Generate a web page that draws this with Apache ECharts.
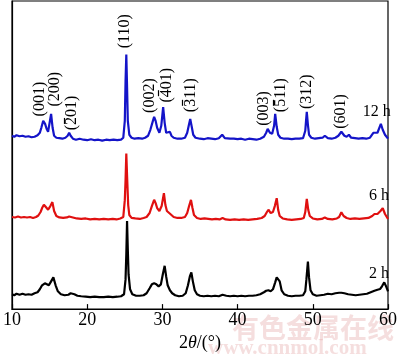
<!DOCTYPE html>
<html><head><meta charset="utf-8">
<script src="https://cdn.jsdelivr.net/npm/echarts@6/dist/echarts.min.js"></script>
<style>html,body{margin:0;padding:0;background:#fff}#c{width:400px;height:357px}</style>
</head><body><div id="c"></div>
<script>
// 2θ (deg) and offset intensity (a.u.) for each trace
const trace12h = [[10.0,175],[10.3,174],[10.6,175.5],[11.0,174.5],[11.4,175],[11.8,174],[12.2,174.5],[12.6,173.5],[13.0,174],[13.4,175.5],[13.7,178],[13.9,183],[14.15,190],[14.4,187],[14.6,182],[14.8,179],[15.0,188],[15.2,197],[15.4,183],[15.6,175],[15.9,173],[16.3,172.5],[16.7,172],[17.1,173],[17.4,175],[17.6,178],[17.8,175],[18.1,172],[18.5,171],[19.0,172],[19.5,171],[20.0,170.5],[20.5,171.5],[21.0,170.5],[21.5,171],[22.0,170],[22.5,171],[23.0,170.5],[23.5,171],[24.0,170.5],[24.5,171],[24.8,173],[25.0,190],[25.1,230],[25.2,257],[25.3,225],[25.4,190],[25.6,176],[25.9,173],[26.3,172],[26.8,172.5],[27.3,172],[27.7,173],[28.1,175],[28.4,181],[28.7,189],[28.9,194],[29.1,190],[29.3,183],[29.6,178],[29.85,185],[30.1,204],[30.3,188],[30.5,178],[30.7,177],[31.0,179],[31.2,175],[31.5,173],[32.0,172],[32.5,172],[33.0,173],[33.3,178],[33.5,185],[33.7,192],[33.9,184],[34.1,176],[34.4,173],[35.0,172],[35.5,171.5],[36.0,172.5],[36.5,172],[37.0,171.5],[37.5,172.5],[37.95,176],[38.3,172.5],[39.0,172],[39.5,172],[40.0,171.5],[40.5,172],[41.0,171],[41.5,172],[42.0,171.5],[42.5,171],[43.0,172],[43.5,174],[43.8,178],[44.0,182],[44.3,178],[44.6,177],[44.85,185],[45.0,197],[45.2,184],[45.4,176],[45.7,173],[46.2,172],[46.7,172],[47.2,171.5],[47.7,172],[48.2,172],[48.7,172.5],[49.0,180],[49.1,190],[49.2,199],[49.35,186],[49.5,176],[49.8,173],[50.3,172],[50.8,172.5],[51.3,173],[51.6,175],[52.0,172.5],[52.5,172],[53.0,173],[53.4,175],[53.8,179],[54.2,175],[54.5,174],[54.8,176],[55.1,173],[55.6,172.5],[56.1,172],[56.6,172.5],[57.1,172],[57.6,173],[58.05,178],[58.3,176],[58.6,178],[59.05,187],[59.3,181],[59.6,176],[60.0,172]];
const trace6h = [[10.0,93],[10.4,92.5],[10.8,93.5],[11.2,92.5],[11.6,93],[12.0,92.5],[12.4,93],[12.8,92],[13.2,93],[13.5,94.5],[13.8,98],[14.0,102],[14.24,105.3],[14.5,103],[14.8,100.3],[15.1,104],[15.37,108],[15.6,99],[15.9,94],[16.3,92.5],[16.8,92],[17.3,92.5],[17.6,93.5],[17.8,95],[18.1,92.5],[18.6,91.5],[19.2,91],[19.8,91.5],[20.4,90.5],[21.0,91],[21.6,90.5],[22.2,91],[22.8,90.5],[23.4,91],[23.9,90.5],[24.4,91.5],[24.8,93],[25.0,110],[25.1,130],[25.2,157],[25.3,135],[25.45,105],[25.6,95],[25.9,92],[26.4,91.5],[27.0,91],[27.5,92],[27.9,93],[28.3,97],[28.6,104],[28.9,110.3],[29.1,107],[29.3,102],[29.6,99],[29.9,104],[30.2,117],[30.4,105],[30.6,99],[30.9,97],[31.2,95],[31.5,93],[32.0,92],[32.5,92],[33.0,93],[33.3,97],[33.55,104],[33.8,110.3],[34.0,102],[34.2,95],[34.6,92],[35.1,91],[35.6,91.5],[36.1,91],[36.6,90.5],[37.1,91],[37.6,90.5],[38.0,92],[38.4,90.5],[39.0,90],[39.6,90.5],[40.2,90],[40.8,90.5],[41.4,90],[42.0,90.5],[42.6,91],[43.2,92],[43.6,94],[43.9,98],[44.1,100.3],[44.4,97],[44.7,98],[44.95,104],[45.2,112],[45.4,100],[45.6,94],[46.0,91.5],[46.6,90.5],[47.2,90],[47.8,90.5],[48.4,91],[48.8,92],[49.0,98],[49.2,111.3],[49.4,100],[49.6,94],[50.0,91.5],[50.6,90.5],[51.2,91],[51.6,92.5],[52.0,91],[52.6,90.5],[53.2,91.5],[53.5,93],[53.8,97.7],[54.1,94],[54.5,92],[55.0,91],[55.6,91.5],[56.2,91],[56.8,91.5],[57.4,92],[57.9,94],[58.2,96],[58.6,96],[59.0,99],[59.3,102],[59.6,96],[60.0,91]];
const trace2h = [[10.0,15],[10.3,14],[10.6,15.5],[11.0,14.5],[11.4,15.5],[11.8,14.5],[12.2,15],[12.6,14.5],[13.0,16],[13.4,17],[13.7,20],[14.0,24],[14.37,26],[14.6,25],[14.9,24],[15.2,28],[15.5,32],[15.8,24],[16.1,18],[16.5,15],[17.0,14],[17.5,14.5],[17.8,16],[18.05,17],[18.3,15],[18.7,13.5],[19.2,13],[19.8,12.5],[20.4,12],[21.0,12.5],[21.6,12],[22.2,12],[22.8,12.5],[23.4,12],[24.0,12.5],[24.5,13],[24.9,15],[25.1,30],[25.2,55],[25.3,89],[25.4,60],[25.5,35],[25.7,20],[26.0,15],[26.5,13.5],[27.0,13.5],[27.5,14],[27.9,16],[28.3,21],[28.6,25],[28.9,26],[29.2,25],[29.5,23],[29.8,25],[30.05,35],[30.3,43.7],[30.5,33],[30.7,24],[31.0,19],[31.3,16],[31.7,14],[32.2,13],[32.7,13.5],[33.1,16],[33.4,24],[33.65,33],[33.85,37],[34.05,28],[34.3,19],[34.6,15],[35.0,13.5],[35.5,13],[36.0,13.5],[36.5,13],[37.0,13.5],[37.5,13],[38.0,14.5],[38.5,13.5],[39.0,13],[39.5,13.5],[40.0,13],[40.5,13.5],[41.0,13],[41.5,13.5],[42.0,13.5],[42.5,14],[43.0,15],[43.5,17],[43.8,18.5],[44.1,19],[44.4,18],[44.7,20],[45.0,27],[45.2,32],[45.4,33.7],[45.6,28],[45.85,19],[46.2,15],[46.7,13.5],[47.2,13],[47.7,13.5],[48.2,13.5],[48.7,14],[49.0,18],[49.15,30],[49.35,48],[49.5,32],[49.7,19],[50.0,15],[50.5,13.5],[51.0,14],[51.5,14.5],[52.0,15.5],[52.5,15],[53.0,16],[53.5,16.5],[53.8,16.5],[54.2,16],[54.7,15],[55.2,14.5],[55.7,14],[56.2,14.5],[56.7,15],[57.2,15.5],[57.7,17],[58.2,18.5],[58.6,19.5],[58.96,20.3],[59.2,23],[59.5,27],[59.8,22],[60.0,18]];

const seriesNames = ['12 h', '6 h', '2 h'];
const seriesLabelAt = [[58.5, 199.5], [58.8, 114], [58.8, 36]];

// Miller indices; the index digit marked with a bar is given separately
const peakLabels = ['(001)', '(200)', '(201)', '(110)', '(002)', '(401)', '(311)', '(003)', '(511)', '(312)', '(601)'];
const peakBarred = [false, false, true, false, false, true, true, false, true, false, false];
const peakLabelAt = [[13.7,212],[15.7,222],[18.0,198],[25.0,280.5],[28.3,215.5],[30.6,226],[33.75,216],[43.5,202.5],[45.8,216],[49.2,219.5],[53.75,199.5]];

const xTicks = [10, 20, 30, 40, 50, 60];

const chart = echarts.init(document.getElementById('c'), null, {renderer: 'canvas'});
const serif = '"Liberation Serif","Times New Roman",serif';
const colors = ['#1414c8', '#e01010', '#000000'];
const traces = [trace12h, trace6h, trace2h];

chart.setOption({
  animation: false,
  backgroundColor: '#fff',
  grid: {left: 8, right: 7, top: 1, bottom: 45, show: true, borderColor: '#000', borderWidth: 1.2},
  xAxis: {
    type: 'value', min: xTicks[0], max: xTicks[xTicks.length - 1], interval: 10,
    axisLine: {show: true, lineStyle: {color: '#000', width: 1.2}},
    axisTick: {show: true, inside: true, length: 5, lineStyle: {color: '#000', width: 1.2}},
    axisLabel: {color: '#000', fontFamily: serif, fontSize: 18, margin: 2},
    splitLine: {show: false},
    name: '{a|2}{i|θ}{a|/(°)}', nameLocation: 'middle', nameGap: 23,
    nameTextStyle: {rich: {a: {fontFamily: serif, fontSize: 18, color: '#000'}, i: {fontFamily: serif, fontSize: 18, fontStyle: 'italic', color: '#000'}}}
  },
  yAxis: {
    type: 'value', min: 0, max: 311,
    axisLine: {show: true, lineStyle: {color: '#000', width: 1.2}},
    axisTick: {show: false}, axisLabel: {show: false}, splitLine: {show: false}
  },
  series: traces.map((d, i) => ({
    type: 'line', name: seriesNames[i], data: d, showSymbol: false, symbol: 'none',
    lineStyle: {color: colors[i], width: 2.2}, z: 3 - i
  }))
});

const g = [];
// watermark
g.push({type: 'text', left: 232, top: 314, z: -10, silent: true,
  style: {text: '有色金属在线', font: 'bold 27px "Noto Sans CJK SC"', fill: 'rgba(225,160,160,0.35)'}});
g.push({type: 'text', left: 208, top: 338, z: -10, silent: true,
  style: {text: 'www.cnnmol.com', font: 'bold 21px "Liberation Serif"', fill: 'rgba(225,160,160,0.35)'}});

const fs = 16;
const font = fs + 'px ' + serif;
const ctx = document.createElement('canvas').getContext('2d');
ctx.font = font;
peakLabels.forEach((t, i) => {
  const p = chart.convertToPixel({gridIndex: 0}, peakLabelAt[i]);
  g.push({type: 'text', x: p[0], y: p[1], rotation: Math.PI / 2, z: 10,
    style: {text: t, font: font, fill: '#000', align: 'center', verticalAlign: 'middle'}});
  if (peakBarred[i]) {
    // bar over the first index digit: rotated text, so "above" is to the left
    const w = ctx.measureText(t).width;
    const wp = ctx.measureText('(').width;
    const wd = ctx.measureText(t.charAt(1)).width;
    const y0 = p[1] + w / 2 - wp - 1;
    const y1 = p[1] + w / 2 - wp - wd + 1;
    const x = Math.round(p[0] - 8.5) + 0.5;
    g.push({type: 'line', z: 11, shape: {x1: x, y1: y0, x2: x, y2: y1}, style: {stroke: '#000', lineWidth: 1.2}});
  }
});
seriesNames.forEach((t, i) => {
  const p = chart.convertToPixel({gridIndex: 0}, seriesLabelAt[i]);
  g.push({type: 'text', x: p[0], y: p[1], z: 10,
    style: {text: t, font: font, fill: '#000', align: 'center', verticalAlign: 'middle'}});
});
chart.setOption({graphic: g});
</script>
</body></html>
